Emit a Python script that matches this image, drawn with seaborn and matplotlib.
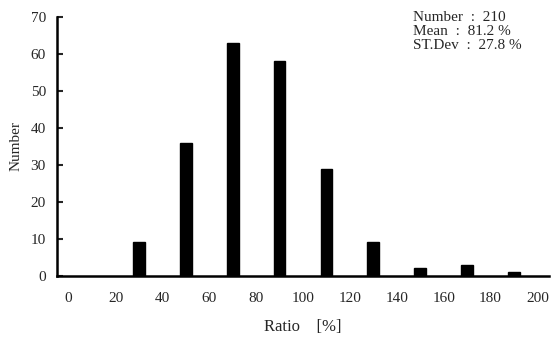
import matplotlib
matplotlib.use("Agg")
import matplotlib.pyplot as plt
import seaborn as sns
import pandas as pd

# bin centres (%) and counts per bin
ratio = [30, 50, 70, 90, 110, 130, 150, 170, 190]
count = [9, 36, 63, 58, 29, 9, 2, 3, 1]
x_ticks = [0, 20, 40, 60, 80, 100, 120, 140, 160, 180, 200]
y_ticks = [0, 10, 20, 30, 40, 50, 60, 70]
stats_lines = ["Number  :  210", "Mean  :  81.2 %", "ST.Dev  :  27.8 %"]

sns.set_style("white")
plt.rcParams['font.family'] = ['Liberation Serif', 'DejaVu Serif']

df = pd.DataFrame({'ratio': ratio, 'count': count})

fig = plt.figure(figsize=(5.53, 3.46), dpi=100)
ax = fig.add_axes([0.103, 0.203, 0.89, 0.748])

sns.barplot(data=df, x='ratio', y='count', native_scale=True, width=0.25,
            color='black', edgecolor='black', ax=ax)

ax.set_xlim(-5, 205)
ax.set_ylim(0, 70)
ax.set_xticks(x_ticks)
ax.set_yticks(y_ticks)
ax.tick_params(axis='x', length=0, pad=12, labelsize=11)
ax.tick_params(axis='y', direction='in', length=4, width=1.5, pad=8, labelsize=11, left=True)

for s in ['top', 'right']:
    ax.spines[s].set_visible(False)
for s in ['left', 'bottom']:
    ax.spines[s].set_linewidth(1.8)
    ax.spines[s].set_color('black')

ax.set_xlabel('Ratio    [%]', fontsize=12, labelpad=10)
ax.set_ylabel('Number', fontsize=11, labelpad=6)

fig.text(0.747, 0.968, "\n".join(stats_lines), fontsize=11, va='top', ha='left',
         linespacing=1.1)

fig.savefig('out.png', dpi=100)
